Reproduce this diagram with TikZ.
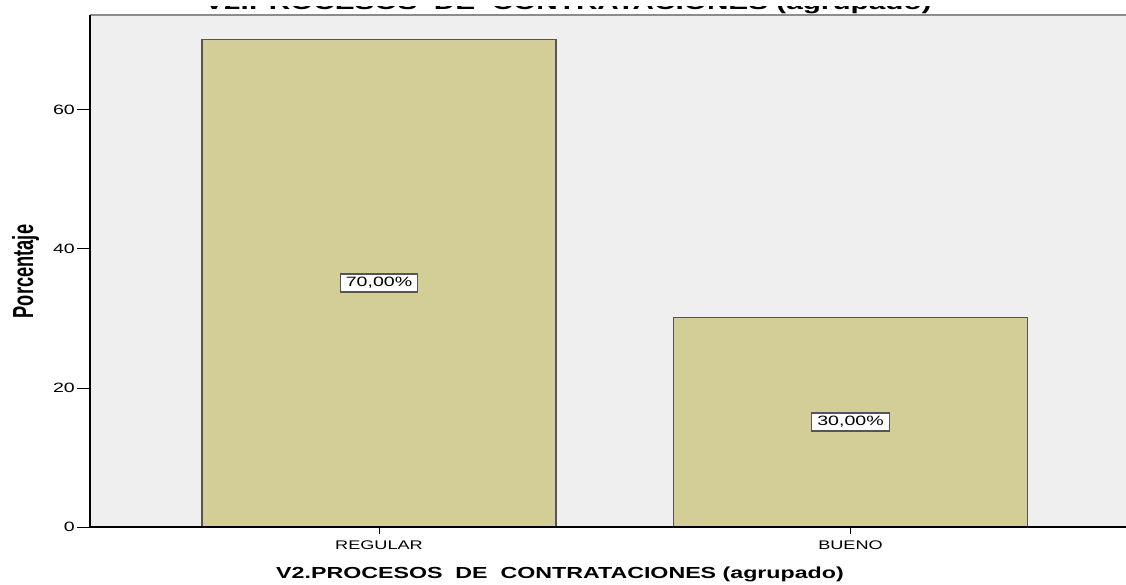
\documentclass[tikz,border=0pt]{standalone}
\usepackage{fontspec}
\setmainfont{Liberation Sans}
\newfontfamily\spss{Liberation Sans}[FakeStretch=1.45]
\newfontfamily\spssrot{Liberation Sans}[FakeStretch=0.63]
\usetikzlibrary{positioning,calc}
\definecolor{colbarra}{RGB}{211,206,152}
\definecolor{colfondo}{RGB}{239,239,239}
\definecolor{colborde}{RGB}{85,85,85}
\definecolor{colmarco}{RGB}{140,140,140}

\begin{document}
\begin{tikzpicture}[x=1pt, y=1pt,
		barra/.style={draw=colborde, line width=1.5pt, fill=colbarra, minimum width=354pt, inner sep=0pt, anchor=south},
		etiqueta/.style={draw=colborde, fill=white, line width=1.2pt, inner xsep=5.5pt, inner ysep=3.5pt, font=\spss\fontsize{13.5}{13.5}\selectfont},
		marca/.style={anchor=east, inner sep=0pt, font=\spss\fontsize{13.5}{13.5}\selectfont},
		categoria/.style={anchor=base, inner sep=0pt, font=\spss\fontsize{12.5}{12.5}\selectfont}]
	\fill[white] (0,0) rectangle (1126,584);
	\useasboundingbox (0,0) rectangle (1126,584);
	% area del grafico
	\coordinate (origen) at (90,57);
	\coordinate (arriba) at (90,569);
	\coordinate (derecha) at (1126,57);
	\fill[colfondo] (origen) rectangle (1126,569);
	\draw[colmarco, line width=2pt] (arriba) -- (1126,569);
	% barras
	\node[barra, minimum height={70*6.95pt}] (regular) at (379,57) {};
	\node[barra, minimum height={30*6.95pt}] (bueno) at (850.5,57) {};
	\node[etiqueta] (pregular) at (regular.center) {70,00\%};
	\node[etiqueta] (pbueno) at (bueno.center) {30,00\%};
	% ejes
	\draw[line width=1.2pt] (arriba) -- (origen) -- (derecha);
	\foreach \v in {0,20,40,60} {
		\draw[line width=1pt] (77,{57+\v*6.95}) -- (90,{57+\v*6.95});
		\node[marca] (t\v) at (75,{57+\v*6.95}) {\v};
	}
	\draw[line width=1pt] (regular.south) -- ++(0,-7);
	\draw[line width=1pt] (bueno.south) -- ++(0,-7);
	\node[categoria] (cregular) at (379,35) {REGULAR};
	\node[categoria] (cbueno) at (850.5,35) {BUENO};
	% titulos
	\node[anchor=base, inner sep=0pt, font=\spss\bfseries\fontsize{16}{16}\selectfont] (ejex) at (560,6) {V2.PROCESOS\ \ DE\ \ CONTRATACIONES (agrupado)};
	\node[rotate=90, anchor=base, inner sep=0pt, font=\spssrot\bfseries\fontsize{29}{29}\selectfont] (ejey) at (33,312.5) {Porcentaje};
	\begin{scope}
		\clip (0,0) rectangle (1126,577);
		\node[anchor=base, inner sep=0pt, font=\spss\bfseries\fontsize{20.5}{20.5}\selectfont] (titulo) at (568,574) {V2.PROCESOS\ \ DE\ \ CONTRATACIONES (agrupado)};
	\end{scope}
\end{tikzpicture}
\end{document}
